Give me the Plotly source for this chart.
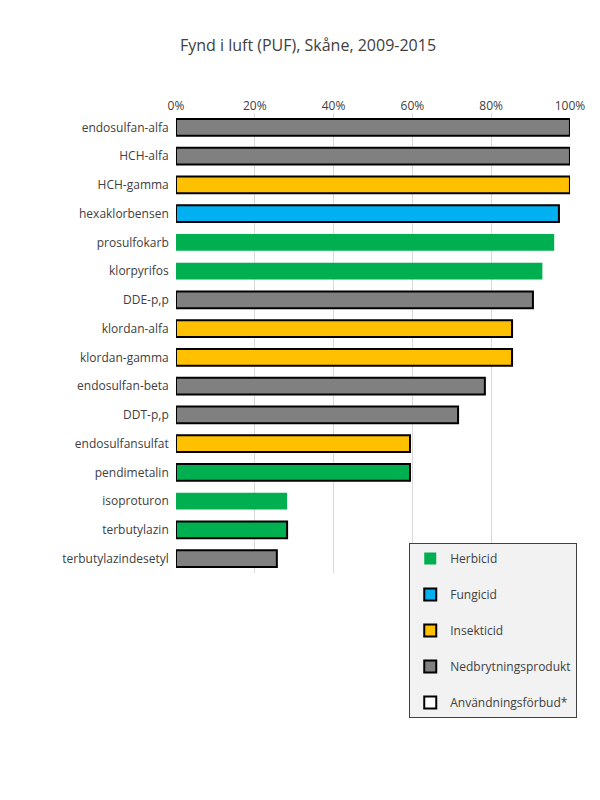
import plotly.graph_objects as go

# Data
substances = ["endosulfan-alfa", "HCH-alfa", "HCH-gamma", "hexaklorbensen", "prosulfokarb",
              "klorpyrifos", "DDE-p,p", "klordan-alfa", "klordan-gamma", "endosulfan-beta",
              "DDT-p,p", "endosulfansulfat", "pendimetalin", "isoproturon", "terbutylazin",
              "terbutylazindesetyl"]
share = [1.00, 1.00, 1.00, 0.972, 0.96, 0.93, 0.906, 0.853, 0.853, 0.784,
         0.716, 0.594, 0.594, 0.282, 0.282, 0.256]
category = ["Nedbrytningsprodukt", "Nedbrytningsprodukt", "Insekticid", "Fungicid", "Herbicid",
            "Herbicid", "Nedbrytningsprodukt", "Insekticid", "Insekticid", "Nedbrytningsprodukt",
            "Nedbrytningsprodukt", "Insekticid", "Herbicid", "Herbicid", "Herbicid",
            "Nedbrytningsprodukt"]
banned = [1, 1, 1, 1, 0, 0, 1, 1, 1, 1, 1, 1, 1, 0, 1, 1]

colors = {"Herbicid": "#00B050", "Fungicid": "#00B0F0",
          "Insekticid": "#FFC000", "Nedbrytningsprodukt": "#808080"}

fig = go.Figure()
for i, (cat, col) in enumerate(colors.items()):
    idx = [k for k, c in enumerate(category) if c == cat]
    fig.add_trace(go.Bar(
        y=[substances[k] for k in idx], x=[share[k] for k in idx],
        orientation="h", name=cat, legendgroup=str(i),
        marker=dict(color=col, line=dict(color="black",
                                         width=[2 if banned[k] else 0 for k in idx])),
    ))
fig.add_trace(go.Bar(y=[substances[0]], x=[None], orientation="h", name="Användningsförbud*",
                     legendgroup="5", marker=dict(color="white", line=dict(color="black", width=2))))

fig.update_layout(
    width=600, height=800, barmode="overlay", bargap=0.42,
    plot_bgcolor="white", paper_bgcolor="white",
    font=dict(family="Open Sans", size=12, color="#404040"),
    title=dict(text="Fynd i luft (PUF), Skåne, 2009-2015", x=0.5, y=0.96,
               font=dict(size=16, color="#404040")),
    margin=dict(l=168, r=38, t=105, b=235),
    xaxis=dict(side="top", range=[0, 1.0001], dtick=0.2, tickformat=".0%", automargin=False,
               showgrid=True, gridcolor="#d9d9d9", zeroline=False, fixedrange=True),
    yaxis=dict(categoryorder="array", categoryarray=substances[::-1], automargin=False,
               ticksuffix="  ", showline=False),
    legend=dict(x=0.592, y=0.065, xanchor="left", yanchor="top",
                bordercolor="#404040", borderwidth=1, bgcolor="#f2f2f2",
                tracegroupgap=17, entrywidth=140, font=dict(size=12)),
)
fig.write_html("out.html")
